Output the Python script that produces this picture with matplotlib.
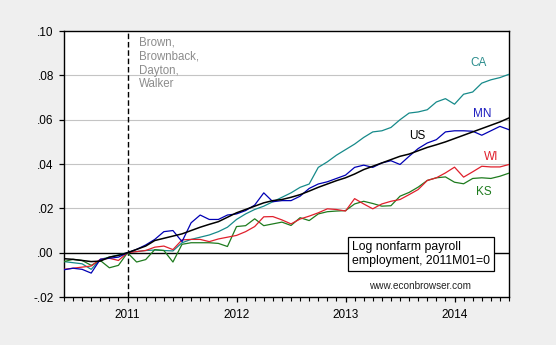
import numpy as np
import pandas as pd
import matplotlib
matplotlib.use("Agg")
import matplotlib.pyplot as plt
from matplotlib.ticker import MultipleLocator, FuncFormatter

# monthly observations, 2010M06 - 2014M07, log employment relative to 2011M01
months = pd.date_range("2010-06-01", "2014-07-01", freq="MS")

us = [-0.0027, -0.003, -0.0035, -0.004, -0.0038, -0.002, -0.0012, 0.0,
      0.0015, 0.003, 0.0055, 0.0065, 0.0075, 0.0085, 0.0100, 0.0115,
      0.0128, 0.014, 0.016, 0.018, 0.0195, 0.021, 0.0225, 0.0235,
      0.024, 0.025, 0.0262, 0.0278, 0.0295, 0.031, 0.0325, 0.0338,
      0.0355, 0.0375, 0.039, 0.0405, 0.042, 0.0435, 0.0445, 0.046,
      0.0475, 0.0487, 0.05, 0.0515, 0.053, 0.0545, 0.056, 0.0575,
      0.059, 0.0608]

ca = [-0.004, -0.0045, -0.005, -0.0075, -0.003, -0.002, -0.001, 0.0,
      0.0005, 0.001, 0.0012, 0.001, 0.0008, 0.0045, 0.006, 0.007,
      0.008, 0.0095, 0.0115, 0.015, 0.0175, 0.0195, 0.021, 0.023,
      0.025, 0.027, 0.0295, 0.031, 0.0385, 0.041, 0.044, 0.0465,
      0.049, 0.052, 0.0545, 0.055, 0.0565, 0.06, 0.063, 0.0635,
      0.0645, 0.068, 0.0695, 0.067, 0.0715, 0.0725, 0.0765, 0.078,
      0.079, 0.0805]

mn = [-0.0077, -0.007, -0.0075, -0.0092, -0.003, -0.0025, -0.002, 0.0,
      0.0015, 0.0035, 0.006, 0.0095, 0.01, 0.005, 0.0135, 0.017,
      0.015, 0.015, 0.017, 0.0175, 0.019, 0.0215, 0.027, 0.023,
      0.0235, 0.0235, 0.0255, 0.029, 0.031, 0.032, 0.0335, 0.035,
      0.0385, 0.0395, 0.0385, 0.0405, 0.0415, 0.0398, 0.0435, 0.047,
      0.0495, 0.051, 0.0545, 0.055, 0.055, 0.0548, 0.053, 0.055,
      0.057, 0.0555]

wi = [-0.0075, -0.007, -0.0065, -0.006, -0.003, -0.0025, -0.0035, 0.0,
      0.0005, 0.001, 0.0025, 0.003, 0.0014, 0.0058, 0.006, 0.006,
      0.005, 0.0062, 0.007, 0.0078, 0.0095, 0.0118, 0.0162, 0.0163,
      0.0148, 0.013, 0.0152, 0.0165, 0.018, 0.0198, 0.0195, 0.0188,
      0.0244, 0.022, 0.0198, 0.022, 0.0232, 0.024, 0.0262, 0.0285,
      0.0326, 0.0338, 0.036, 0.0386, 0.0341, 0.0365, 0.039, 0.0387,
      0.0387, 0.0398]

ks = [-0.004, -0.003, -0.0035, -0.0057, -0.0035, -0.0068, -0.0057, 0.0,
      -0.0042, -0.0031, 0.0014, 0.001, -0.0042, 0.0038, 0.0045, 0.0045,
      0.0045, 0.0042, 0.0028, 0.0118, 0.0122, 0.0153, 0.0122, 0.013,
      0.0138, 0.0123, 0.0158, 0.0145, 0.0175, 0.0185, 0.0188, 0.019,
      0.022, 0.0232, 0.0222, 0.021, 0.0212, 0.0255, 0.0272, 0.0296,
      0.0326, 0.0338, 0.0342, 0.0318, 0.0311, 0.0335, 0.0338, 0.0335,
      0.0345, 0.0359]

# decimal-year positions so years fall on whole numbers
x = months.year + (months.month - 1) / 12.0

plt.rcParams["font.family"] = ["Liberation Sans", "DejaVu Sans"]

fig = plt.figure(figsize=(5.56, 3.45), dpi=100, facecolor="#efefef")
ax = fig.add_axes([0.115, 0.139, 0.8005, 0.771])
ax.set_facecolor("white")

for yv in [0.02, 0.04, 0.06, 0.08]:
    ax.axhline(yv, color="#c4c4c4", lw=0.8, zorder=1)
ax.axhline(0.0, color="black", lw=1.0, zorder=2)
ax.axvline(2011.0, color="black", lw=1.0, linestyle=(0, (4, 2)), zorder=2)

ax.plot(x, ca, color="#168a8a", lw=0.9, zorder=3)
ax.plot(x, ks, color="#1e7b1e", lw=0.9, zorder=3)
ax.plot(x, wi, color="#e0202c", lw=0.9, zorder=3)
ax.plot(x, mn, color="#0000b4", lw=0.9, zorder=4)
ax.plot(x, us, color="black", lw=1.1, zorder=5)

ax.set_xlim(x[0], x[-1])
ax.set_ylim(-0.02, 0.10)

ax.xaxis.set_major_locator(MultipleLocator(1))
ax.xaxis.set_minor_locator(MultipleLocator(1 / 12))
ax.xaxis.set_major_formatter(FuncFormatter(lambda v, p: "%d" % round(v)))
ax.yaxis.set_major_locator(MultipleLocator(0.02))
ax.yaxis.set_major_formatter(
    FuncFormatter(lambda v, p: ("%.2f" % v).replace("0.", ".") if abs(v) > 1e-9 else ".00"))

ax.tick_params(axis="both", which="major", direction="out", length=3.8,
               width=0.9, labelsize=8.5, color="black")
ax.tick_params(axis="x", which="minor", direction="out", length=3.0, width=0.8)
ax.tick_params(axis="x", which="major", pad=5)
ax.tick_params(axis="y", which="major", pad=3.5)
for sp in ax.spines.values():
    sp.set_linewidth(1.0)
    sp.set_color("black")

# series labels
ax.text(2014.22, 0.0854, "CA", color="#2a8c8c", fontsize=8.5, ha="center", va="center")
ax.text(2014.25, 0.0628, "MN", color="#2020c0", fontsize=8.5, ha="center", va="center")
ax.text(2013.66, 0.0525, "US", color="black", fontsize=8.5, ha="center", va="center")
ax.text(2014.34, 0.0434, "WI", color="#e0202c", fontsize=8.5, ha="center", va="center")
ax.text(2014.27, 0.0272, "KS", color="#1e7b1e", fontsize=8.5, ha="center", va="center")

ax.text(0.169, 0.978, "Brown,\nBrownback,\nDayton,\nWalker", transform=ax.transAxes,
        color="#8c8c8c", fontsize=8.3, ha="left", va="top", linespacing=1.2)

ax.text(0.647, 0.162, "Log nonfarm payroll\nemployment, 2011M01=0", transform=ax.transAxes,
        fontsize=8.8, ha="left", va="center", linespacing=1.15, zorder=6,
        bbox=dict(boxstyle="square,pad=0.35", facecolor="white", edgecolor="black", lw=0.9))

ax.text(0.8, 0.041, "www.econbrowser.com", transform=ax.transAxes,
        fontsize=7.2, ha="center", va="center", color="#222222")

fig.savefig("out.png", dpi=100, facecolor=fig.get_facecolor())
